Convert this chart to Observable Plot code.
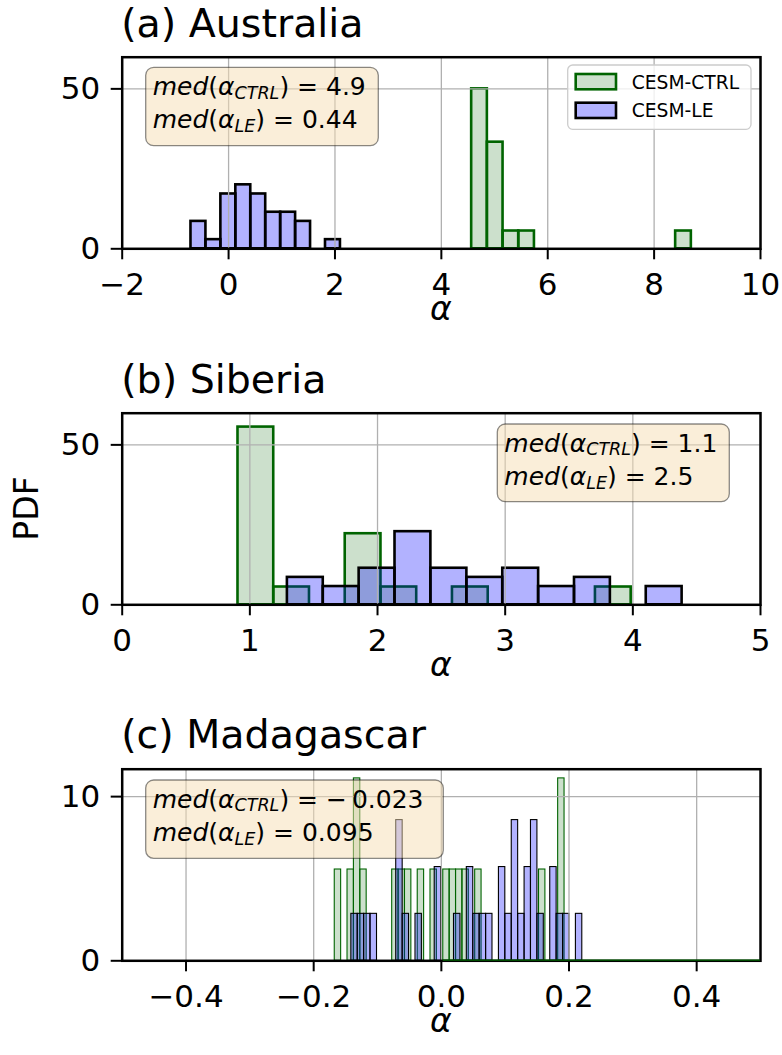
<!DOCTYPE html>
<html>
<head>
<meta charset="utf-8">
<script src="https://cdn.jsdelivr.net/npm/d3@7"></script>
<script src="https://cdn.jsdelivr.net/npm/@observablehq/plot@0.6"></script>
<style>
  html, body { margin: 0; padding: 0; background: #fff; overflow: hidden; }
  #fig { position: relative; width: 782px; height: 1055px; overflow: hidden; background: #fff;
         font-family: "DejaVu Sans", sans-serif; }
  #fig svg.panel { position: absolute; left: 0; }
  #overlay { position: absolute; left: 0; top: 0; }
</style>
</head>
<body>
<div id="fig"></div>
<script>
// ---------- histogram bins: left edge, right edge, PDF (%) ----------
// (a) Australia
const ausCtrlLeft  = [4.570, 4.865, 5.160, 5.455, 8.405];
const ausCtrlRight = [4.865, 5.160, 5.455, 5.750, 8.700];
const ausCtrlPdf   = [50.00, 33.33, 5.56, 5.56, 5.56];
const ausLeLeft  = [-0.707, -0.426, -0.145, 0.136, 0.417, 0.698, 0.979, 1.260, 1.822];
const ausLeRight = [-0.426, -0.145, 0.136, 0.417, 0.698, 0.979, 1.260, 1.541, 2.103];
const ausLePdf   = [8.57, 2.86, 17.14, 20.00, 17.14, 11.43, 11.43, 8.57, 2.86];

// (b) Siberia
const sibCtrlLeft  = [0.907, 1.187, 1.747, 2.027, 2.587, 3.707];
const sibCtrlRight = [1.187, 1.467, 2.027, 2.307, 2.867, 3.987];
const sibCtrlPdf   = [55.56, 5.56, 22.22, 5.56, 5.56, 5.56];
const sibLeLeft  = [1.294, 1.575, 1.856, 2.137, 2.418, 2.700, 2.981, 3.262, 3.543, 4.105];
const sibLeRight = [1.575, 1.856, 2.137, 2.418, 2.700, 2.981, 3.262, 3.543, 3.824, 4.386];
const sibLePdf   = [8.57, 5.71, 11.43, 22.86, 11.43, 8.57, 11.43, 5.71, 8.57, 5.71];

// (c) Madagascar
const madCtrlLeft  = [-0.167, -0.147, -0.137, -0.127, -0.077, -0.067, -0.057, -0.037,
                      -0.017, 0.003, 0.013, 0.023, 0.033, 0.053, 0.153, 0.183];
const madCtrlRight = [-0.157, -0.137, -0.127, -0.117, -0.067, -0.057, -0.047, -0.027,
                      -0.007, 0.013, 0.023, 0.033, 0.043, 0.063, 0.163, 0.193];
const madCtrlPdf   = [5.56, 5.56, 11.11, 5.56, 5.56, 5.56, 5.56, 5.56,
                      5.56, 5.56, 5.56, 5.56, 5.56, 5.56, 5.56, 11.11];
// empty CTRL bins along the baseline
const madCtrlEmptySpan = [0.003, 0.5];
const madLeLeft  = [-0.1410, -0.1310, -0.1210, -0.1110, -0.0707, -0.0606, -0.0405, -0.0104,
                    0.0198, 0.0399, 0.0500, 0.0600, 0.0701, 0.0902, 0.1002, 0.1103,
                    0.1203, 0.1304, 0.1404, 0.1505, 0.1706, 0.1806, 0.1907, 0.2108];
const madLeRight = [-0.1310, -0.1210, -0.1110, -0.1008, -0.0606, -0.0506, -0.0305, -0.0003,
                    0.0299, 0.0500, 0.0600, 0.0701, 0.0801, 0.1002, 0.1103, 0.1203,
                    0.1304, 0.1404, 0.1505, 0.1605, 0.1806, 0.1907, 0.2007, 0.2208];
const madLePdf   = [2.86, 2.86, 2.86, 2.86, 8.57, 2.86, 2.86, 5.71,
                    2.86, 5.71, 2.86, 2.86, 2.86, 5.71, 2.86, 8.57,
                    2.86, 5.71, 8.57, 2.86, 5.71, 2.86, 2.86, 2.86];

// ---------- axes, titles, medians ----------
const titles = ["(a) Australia", "(b) Siberia", "(c) Madagascar"];
const xDomains = [[-2, 10], [0, 5], [-0.5, 0.5]];
const xTicks = [[-2, 0, 2, 4, 6, 8, 10], [0, 1, 2, 3, 4, 5], [-0.4, -0.2, 0.0, 0.2, 0.4]];
const yDomains = [[0, 59.9], [0, 59.9], [0, 11.67]];
const yTicks = [[0, 50], [0, 50], [0, 10]];
const medCtrl = ["4.9", "1.1", "\u2212\u20090.023"];
const medLe = ["0.44", "2.5", "0.095"];
const seriesNames = ["CESM-CTRL", "CESM-LE"];

const toBins = (l, r, p) => l.map((d, i) => ({x0: d, x1: r[i], pdf: p[i]}));
const ctrlBins = [toBins(ausCtrlLeft, ausCtrlRight, ausCtrlPdf),
                  toBins(sibCtrlLeft, sibCtrlRight, sibCtrlPdf),
                  toBins(madCtrlLeft, madCtrlRight, madCtrlPdf)];
const leBins = [toBins(ausLeLeft, ausLeRight, ausLePdf),
                toBins(sibLeLeft, sibLeRight, sibLePdf),
                toBins(madLeLeft, madLeRight, madLePdf)];

// ---------- layout ----------
const W = 782;
const frameL = 121.7, frameR = 760, frameH = 191.6;
const panelH = 356;
const panelTop = [0, 356, 711.6];      // svg offsets
const mTop = 56.7;
const barStroke = [2.6, 2.6, 1.1];
const TICK_FONT = 31;

const GREEN_FILL = "rgb(0,100,0)", GREEN_EDGE = "darkgreen";
const BLUE_FILL = "blue";
const GRID = "#b0b0b0";

const fig = document.getElementById("fig");

for (let i = 0; i < 3; i++) {
  const marks = [
    Plot.rect(ctrlBins[i], {x1: "x0", x2: "x1", y1: 0, y2: "pdf", inset: 0,
      fill: GREEN_FILL, fillOpacity: 0.2, stroke: GREEN_EDGE, strokeWidth: barStroke[i]}),
    Plot.rect(leBins[i], {x1: "x0", x2: "x1", y1: 0, y2: "pdf", inset: 0,
      fill: BLUE_FILL, fillOpacity: 0.3, stroke: "black", strokeWidth: barStroke[i]}),
    Plot.gridX(xTicks[i], {stroke: GRID, strokeOpacity: 1, strokeWidth: 1.3}),
    Plot.gridY(yTicks[i], {stroke: GRID, strokeOpacity: 1, strokeWidth: 1.3}),
    Plot.frame({stroke: "black", strokeWidth: 2.5}),
    Plot.axisX(xTicks[i], {tickSize: 11, tickPadding: 13, fontSize: TICK_FONT, strokeWidth: 2,
      label: null, tickFormat: i === 2 ? d3.format(".1f") : d3.format("d")}),
    Plot.axisY(yTicks[i], {tickSize: 11, tickPadding: 11, fontSize: TICK_FONT, strokeWidth: 2,
      label: null, tickFormat: d3.format("d")})
  ];
  if (i === 2) {
    marks.push(Plot.ruleY([0], {x1: madCtrlEmptySpan[0], x2: madCtrlEmptySpan[1],
      stroke: GREEN_EDGE, strokeWidth: 1.2, dy: -0.6}));
  }
  const svg = Plot.plot({
    width: W, height: panelH,
    marginLeft: frameL, marginRight: W - frameR, marginTop: mTop,
    marginBottom: panelH - mTop - frameH,
    x: {domain: xDomains[i]},
    y: {domain: yDomains[i]},
    style: {fontFamily: "DejaVu Sans", background: "transparent", overflow: "visible", color: "black"},
    marks
  });
  svg.classList.add("panel");
  svg.style.top = panelTop[i] + "px";
  fig.appendChild(svg);
}

// ---------- titles, axis labels, median boxes, legend ----------
const ov = d3.select(fig).append("svg").attr("id", "overlay")
  .attr("width", W).attr("height", 1055)
  .style("font-family", "DejaVu Sans");

for (let i = 0; i < 3; i++) {
  const fTop = panelTop[i] + mTop, fBot = fTop + frameH;
  ov.append("text").attr("x", frameL - 0.5).attr("y", fTop - 20)
    .attr("font-size", 39.5).text(titles[i]);
  ov.append("text").attr("x", (frameL + frameR) / 2).attr("y", fBot + 72)
    .attr("text-anchor", "middle").attr("font-size", 33).attr("font-style", "italic").text("α");
}
ov.append("text").attr("transform", `translate(38,${panelTop[1] + mTop + frameH / 2}) rotate(-90)`)
  .attr("text-anchor", "middle").attr("font-size", 33).text("PDF");

// median boxes
const boxes = [
  {x: 145.7, y: 67.3, w: 232.6, h: 78.4},
  {x: 497.3, y: 424.0, w: 232.0, h: 77.7},
  {x: 145.7, y: 780.0, w: 297.6, h: 78.3}
];
const BOX_FONT = 25, SUB_FONT = 17.5;
function medLine(g, x, y, sub, value) {
  const t = g.append("text").attr("x", x).attr("y", y).attr("font-size", BOX_FONT)
    .attr("xml:space", "preserve").style("white-space", "pre");
  t.append("tspan").attr("font-style", "italic").text("med");
  t.append("tspan").text("(");
  t.append("tspan").attr("font-style", "italic").text("α");
  t.append("tspan").attr("font-style", "italic").attr("font-size", SUB_FONT).attr("dy", 3.5).text(sub);
  t.append("tspan").attr("dy", -3.5).text(")");
  t.append("tspan").text(" = " + value);
}
boxes.forEach((b, i) => {
  const g = ov.append("g");
  g.append("rect").attr("x", b.x).attr("y", b.y).attr("width", b.w).attr("height", b.h)
    .attr("rx", 8).attr("fill", "wheat").attr("fill-opacity", 0.5)
    .attr("stroke", "black").attr("stroke-opacity", 0.45).attr("stroke-width", 1.3);
  medLine(g, b.x + 7, b.y + 27.7, "CTRL", medCtrl[i]);
  medLine(g, b.x + 7, b.y + 61, "LE", medLe[i]);
});

// legend
const lg = ov.append("g");
lg.append("rect").attr("x", 567.7).attr("y", 65).attr("width", 183.3).attr("height", 64.3)
  .attr("rx", 5).attr("fill", "white").attr("fill-opacity", 0.8)
  .attr("stroke", "#cccccc").attr("stroke-width", 1.3);
const swatches = [
  {fill: GREEN_FILL, op: 0.2, edge: GREEN_EDGE},
  {fill: BLUE_FILL, op: 0.3, edge: "black"}
];
swatches.forEach((s, k) => {
  const y = 74 + k * 28.7;
  lg.append("rect").attr("x", 575.7).attr("y", y).attr("width", 40.3).attr("height", 15.3)
    .attr("fill", s.fill).attr("fill-opacity", s.op).attr("stroke", s.edge).attr("stroke-width", 2.6);
  lg.append("text").attr("x", 631.7).attr("y", y + 14.5).attr("font-size", 18.7).text(seriesNames[k]);
});
</script>
</body>
</html>
